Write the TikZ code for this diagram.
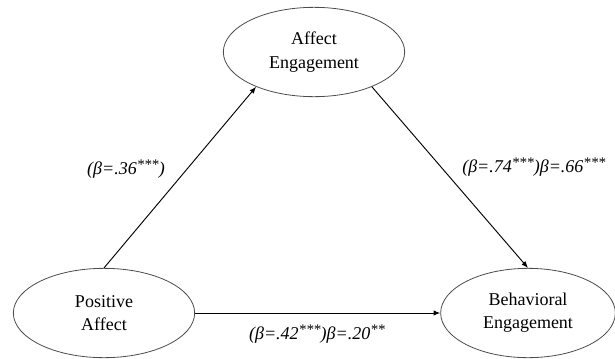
\documentclass[tikz,border=0pt]{standalone}
\usepackage{fontspec}
\setmainfont{Liberation Serif}
\usepackage{tikz}
\usetikzlibrary{shapes.geometric,arrows.meta}
\newcommand{\sigstars}[1]{\raisebox{0.3em}{\fontsize{11}{11}\selectfont #1}}

\tikzset{
  latent/.style={ellipse,draw=black!70,line width=0.6pt,minimum width=136pt,minimum height=67pt,
    align=center,font=\fontsize{13.5}{17.5}\selectfont,inner sep=0pt},
  path/.style={line width=0.7pt,-{Latex[length=5pt,width=4pt]}},
  coef/.style={font=\fontsize{13.5}{16}\selectfont\itshape,inner sep=0.75pt}
}

\begin{document}
\begin{tikzpicture}[x=0.75pt,y=0.75pt,yscale=-1,xscale=1]
\useasboundingbox (0,0) rectangle (615,358);

%Shape: Ellipse [id:ae]
\node [latent] (ae) at (314,52) {Affect\\Engagement};
%Shape: Ellipse [id:pa]
\node [latent] (pa) at (104,313) {Positive\\Affect};
%Shape: Ellipse [id:be]
\node [latent,minimum width=131pt] (be) at (528,313) {Behavioral\\Engagement};

%Straight Lines [id:pa-ae]
\draw [path] (pa.north) -- (ae.211);
%Straight Lines [id:ae-be]
\draw [path] (ae.329) -- (be.north);
%Straight Lines [id:pa-be]
\draw [path] (pa) -- (be);

% Text Node
\node [coef] (c1) at (126,169) {(β=.36\sigstars{***})};
% Text Node
\node [coef,anchor=west] (c2) at (461,167) {(β=.74\sigstars{***})β=.66\sigstars{***}};
% Text Node
\node [coef] (c3) at (317,334) {(β=.42\sigstars{***})β=.20\sigstars{**}};

\end{tikzpicture}
\end{document}
